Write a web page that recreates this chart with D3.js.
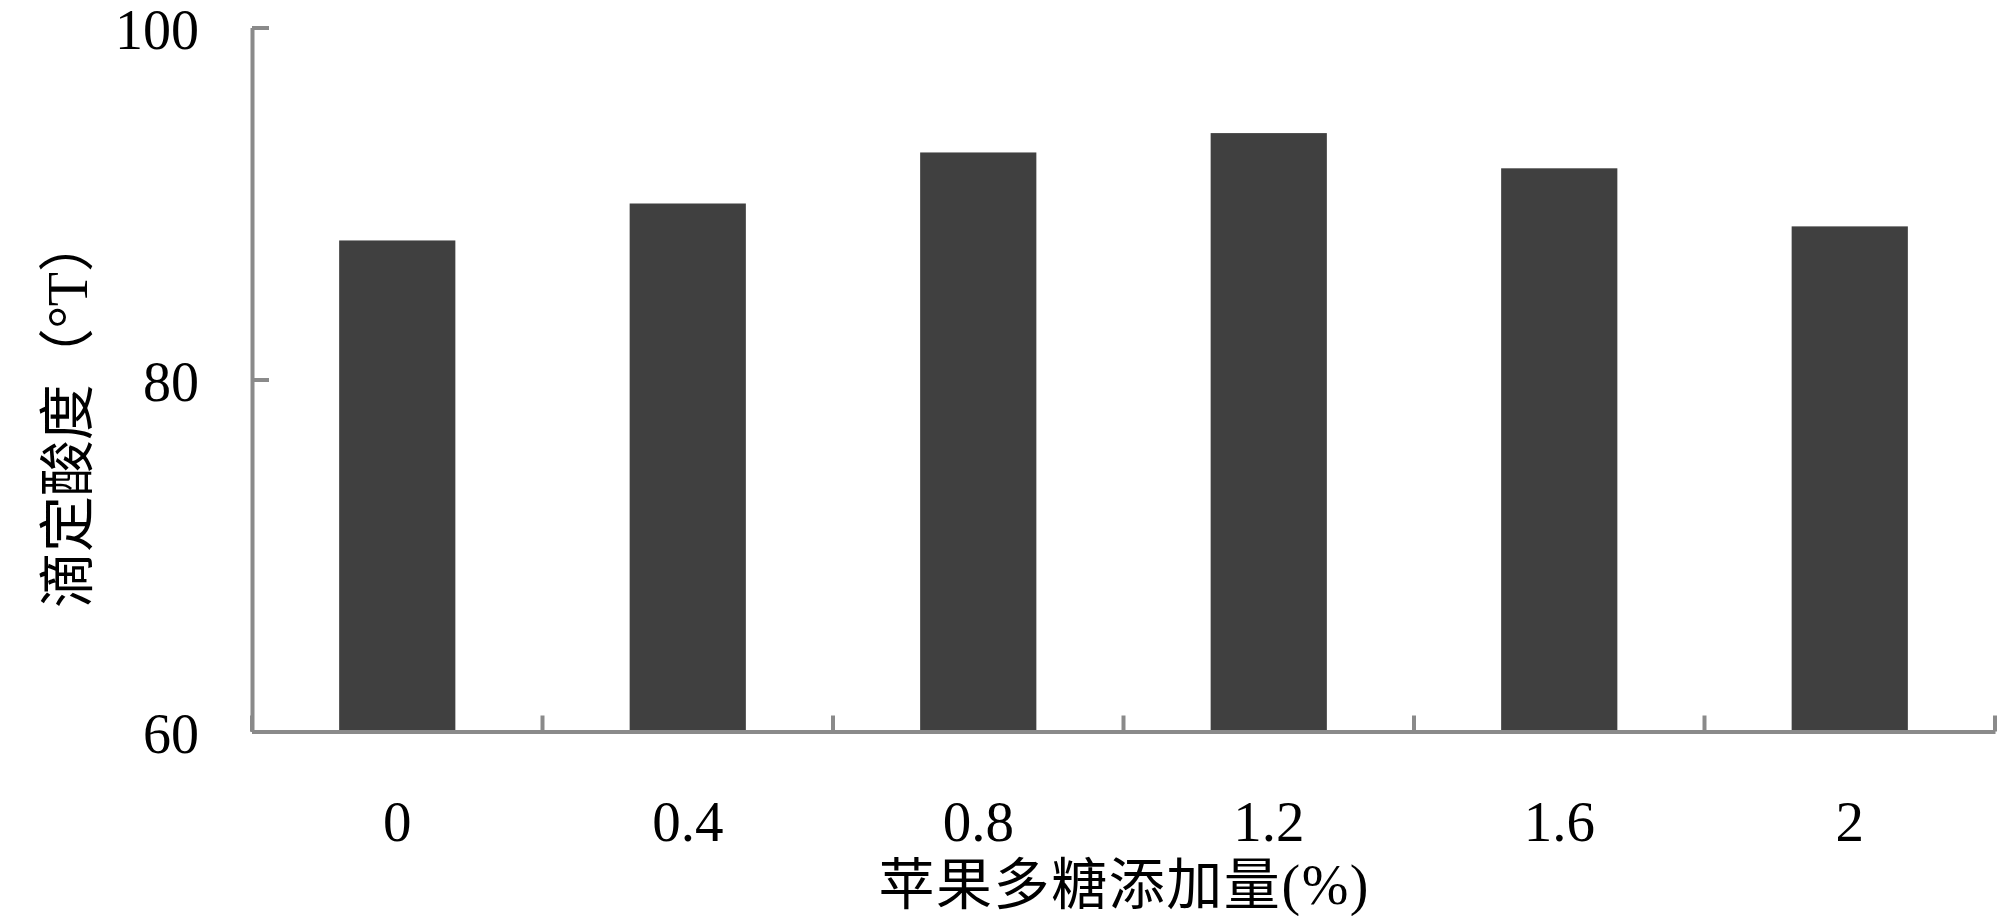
<!DOCTYPE html>
<html>
<head>
<meta charset="utf-8">
<script src="https://cdn.jsdelivr.net/npm/d3@7"></script>
<style>
  html, body { margin: 0; padding: 0; background: #ffffff; }
  svg { display: block; }
</style>
</head>
<body>
<svg id="chart" width="2000" height="916"></svg>
<script>
// ---- data ----
const categories = ["0", "0.4", "0.8", "1.2", "1.6", "2"];
const values = [87.9, 90.0, 92.9, 94.0, 92.0, 88.7];
const yTicks = [60, 80, 100];
const xTitle = "苹果多糖添加量(%)";
const yTitle = "滴定酸度（°T）";

(function () {
// ---- layout ----
const mLeft = 252, mRight = 1995, mTop = 27.5, mBottom = 731.5;
const axisColor = "#8a8a8a";
const barColor = "#404040";
const numFont = "'Liberation Serif', 'Times New Roman', serif";
const cjkFont = "'Liberation Serif', 'Noto Sans CJK SC', serif";

const svg = d3.select("#chart");

const x = d3.scaleBand().domain(categories).range([mLeft, mRight])
  .paddingInner(0.6).paddingOuter(0.3);
const y = d3.scaleLinear().domain([60, 100]).range([mBottom, mTop]);

// bars
svg.append("g").selectAll("rect").data(values).join("rect")
  .attr("x", (d, i) => x(categories[i]))
  .attr("y", d => y(d))
  .attr("width", x.bandwidth())
  .attr("height", d => y(60) - y(d))
  .attr("fill", barColor);

// y axis
const yAxis = svg.append("g").attr("transform", `translate(${mLeft},0)`)
  .call(d3.axisLeft(y).tickValues(yTicks).tickSizeInner(-17).tickSizeOuter(0).tickPadding(53).tickFormat(d3.format("d")));
yAxis.select(".domain").attr("stroke", axisColor).attr("stroke-width", 4);
yAxis.selectAll(".tick line").attr("stroke", axisColor).attr("stroke-width", 4);
yAxis.selectAll(".tick text").attr("font-family", numFont).attr("font-size", 56)
  .attr("fill", "#000").attr("dy", "0.38em");

// x axis
const xAxis = svg.append("g").attr("transform", `translate(0,${mBottom})`)
  .call(d3.axisBottom(x).tickSize(0).tickPadding(0));
xAxis.select(".domain").attr("stroke", axisColor).attr("stroke-width", 4);
xAxis.selectAll(".tick text").attr("font-family", numFont).attr("font-size", 57)
  .attr("fill", "#000").attr("dy", null).attr("y", 109);

// category boundary ticks (pointing up into the plot)
const step = x.step();
const bounds = categories.map(c => x(c) - step * x.paddingOuter()).concat([mRight]);
svg.append("g").selectAll("line").data(bounds).join("line")
  .attr("x1", d => d).attr("x2", d => d)
  .attr("y1", mBottom).attr("y2", mBottom - 16)
  .attr("stroke", axisColor).attr("stroke-width", 4);

// x title
svg.append("text")
  .attr("x", (mLeft + mRight) / 2).attr("y", 904)
  .attr("text-anchor", "middle")
  .attr("font-family", cjkFont).attr("font-size", 56)
  .attr("textLength", 490).attr("lengthAdjust", "spacing")
  .attr("fill", "#000")
  .text(xTitle);

// y title
svg.append("text")
  .attr("transform", `translate(87,412) rotate(-90)`)
  .attr("text-anchor", "middle")
  .attr("font-family", cjkFont).attr("font-size", 56)
  .attr("textLength", 392).attr("lengthAdjust", "spacing")
  .attr("fill", "#000")
  .text(yTitle);
})();
</script>
</body>
</html>
